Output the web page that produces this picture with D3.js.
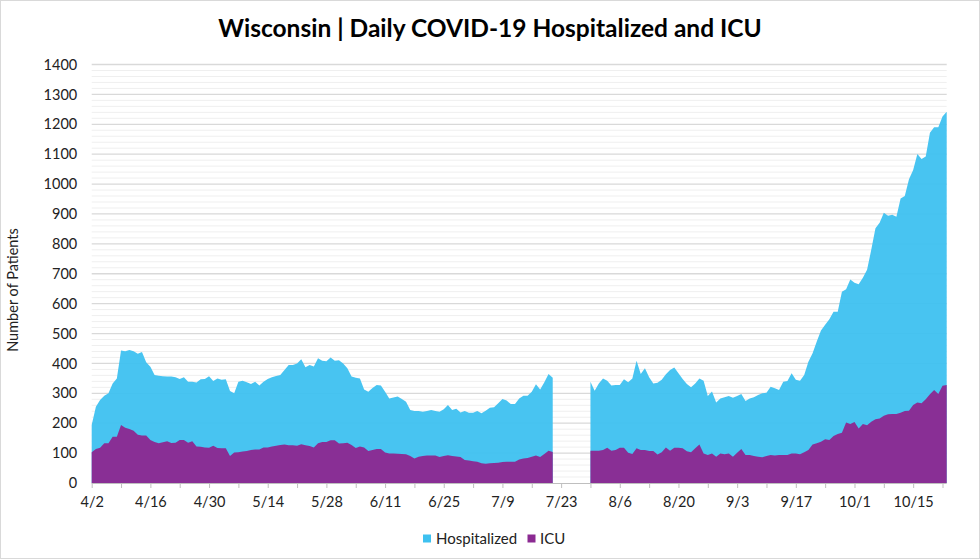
<!DOCTYPE html>
<html><head><meta charset="utf-8">
<script src="https://cdn.jsdelivr.net/npm/d3@7"></script>
<style>
body{margin:0;background:#fff;}
svg{display:block;font-family:Lato,"Open Sans",sans-serif;}
</style>
</head><body>
<svg id="chart" width="980" height="559"></svg>
<script>
// ---------------- DATA ----------------
const startDate = "2020-04-02";
const titleText = "Wisconsin | Daily COVID-19 Hospitalized and ICU";
const yAxisTitle = "Number of Patients";
const seriesNames = ["Hospitalized", "ICU"];
const yTicks = [0,100,200,300,400,500,600,700,800,900,1000,1100,1200,1300,1400];
const xTickLabels = ["4/2","4/16","4/30","5/14","5/28","6/11","6/25","7/9","7/23","8/6","8/20","9/3","9/17","10/1","10/15"];

// one value per day starting 4/2; null = no data (gap 7/22 - 7/29)
const hospitalized = [
 194,255,278,292,300,333,350,443,441,445,441,432,438,404,389,361,359,357,356,356,
 354,348,354,339,339,336,347,348,357,341,350,345,347,308,300,339,342,337,331,339,
 326,339,348,354,358,361,378,395,395,400,414,387,395,390,417,409,407,420,409,411,
 400,384,356,352,350,313,305,318,328,326,
 305,283,286,289,281,272,244,241,241,238,241,244,241,238,247,261,244,248,236,241,
 235,235,241,233,242,252,253,267,281,276,264,264,283,292,292,305,330,313,337,365,352,
 null,null,null,null,null,null,null,null,
 339,309,333,350,342,326,328,328,347,337,350,409,365,384,354,333,335,345,364,378,
 386,367,348,331,320,333,350,342,291,306,269,283,287,291,285,291,298,274,283,287,
 294,300,302,322,317,311,339,341,367,345,342,361,406,434,
 473,510,529,548,573,573,640,648,681,670,665,687,713,780,852,871,904,894,897,891,
 952,960,1016,1047,1101,1084,1092,1172,1190,1190,1226,1242
];
const icu = [
 103,114,118,133,133,155,155,194,185,181,175,161,159,159,144,137,133,136,140,134,
 135,144,144,135,140,122,121,119,118,125,117,116,116,90,102,103,105,107,110,112,
 112,119,119,122,125,127,129,126,126,125,130,126,124,119,133,137,137,143,143,132,
 133,135,127,117,122,119,107,110,114,114,
 102,99,99,98,97,96,90,82,88,90,92,92,92,87,90,93,90,89,87,77,
 75,73,71,66,64,66,67,68,70,71,71,71,79,82,84,88,92,87,97,108,104,
 null,null,null,null,null,null,null,null,
 108,108,108,110,118,108,110,118,118,101,97,116,110,110,107,107,95,103,119,108,
 118,118,116,106,103,116,129,99,94,99,88,99,96,99,88,101,114,94,94,90,
 88,86,90,94,92,94,94,94,99,99,96,103,110,129,
 133,138,146,144,157,164,168,202,197,204,182,197,193,205,213,216,225,230,231,231,
 235,241,242,261,269,267,280,297,311,298,325,328
];

// ---------------- STYLE ----------------
const colors = {Hospitalized: "#3EC1F0", ICU: "#8B2A92"};
const W = 980, H = 559;
const plot = {left: 91.7, right: 946.7, top: 64.5, bottom: 483};

const svg = d3.select("#chart");
svg.append("rect").attr("x",0.5).attr("y",0.5).attr("width",W-1).attr("height",H-1)
  .attr("fill","#fff").attr("stroke","#D9D9D9");

const parseISO = d3.utcParse("%Y-%m-%d");
const t0 = parseISO(startDate);
const dates = hospitalized.map((_, i) => d3.utcDay.offset(t0, i));
const rows = dates.map((d, i) => ({date: d, h: hospitalized[i], icu: icu[i]}));

const x = d3.scaleUtc().domain([t0, dates[dates.length - 1]]).range([plot.left, plot.right]);
const y = d3.scaleLinear().domain([0, 1400]).range([plot.bottom, plot.top]);

// gridlines: minor every 20, major every 100
const minor = d3.range(0, 1401, 20).filter(v => v % 100 !== 0);
svg.append("g").selectAll("line").data(minor).join("line")
  .attr("x1", plot.left).attr("x2", plot.right)
  .attr("y1", d => y(d)).attr("y2", d => y(d))
  .attr("stroke", "#EFEFEF").attr("stroke-width", 1);
svg.append("g").selectAll("line").data(yTicks.filter(v => v > 0)).join("line")
  .attr("x1", plot.left).attr("x2", plot.right)
  .attr("y1", d => y(d)).attr("y2", d => y(d))
  .attr("stroke", "#D9D9D9").attr("stroke-width", 1.3);

// areas (overlapping, not stacked)
const areaH = d3.area().defined(d => d.h != null)
  .x(d => x(d.date)).y0(y(0)).y1(d => y(d.h));
const areaI = d3.area().defined(d => d.icu != null)
  .x(d => x(d.date)).y0(y(0)).y1(d => y(d.icu));
svg.append("path").datum(rows).attr("d", areaH)
  .attr("fill", colors.Hospitalized).attr("fill-opacity", 0.95);
svg.append("path").datum(rows).attr("d", areaI)
  .attr("fill", colors.ICU).attr("fill-opacity", 0.97);

// x axis
const weekly = d3.range(0, dates.length, 7).map(i => dates[i]);
const fmt = d3.utcFormat("%-m/%-d");
const labelSet = new Set(xTickLabels);
const xAxis = d3.axisBottom(x).tickValues(weekly).tickSize(5).tickPadding(9)
  .tickFormat(d => labelSet.has(fmt(d)) ? fmt(d) : "");
const gx = svg.append("g").attr("transform", `translate(0,${plot.bottom})`).call(xAxis);
gx.select(".domain").attr("stroke", "#BFBFBF").attr("d", `M${plot.left},0.5H${plot.right}`);
gx.selectAll(".tick line").attr("stroke", "#BFBFBF");
gx.selectAll(".tick text").attr("font-size", "14.5px").attr("fill", "#222")
  .attr("font-family", "Lato,'Open Sans',sans-serif");

// y axis
const yAxis = d3.axisLeft(y).tickValues(yTicks).tickSize(0).tickPadding(14.5)
  .tickFormat(d3.format("d"));
const gy = svg.append("g").attr("transform", `translate(${plot.left},0)`).call(yAxis);
gy.select(".domain").remove();
gy.selectAll(".tick text").attr("font-size", "14.5px").attr("fill", "#222")
  .attr("font-family", "Lato,'Open Sans',sans-serif");

// y axis title
svg.append("text").attr("transform", "translate(18,290) rotate(-90)")
  .attr("text-anchor", "middle").attr("font-size", "14.5px").attr("fill", "#222")
  .text(yAxisTitle);

// title
const title = svg.append("text").attr("x", W / 2).attr("y", 37)
  .attr("text-anchor", "middle").attr("font-weight", "bold").attr("font-size", "24px")
  .attr("fill", "#000").text(titleText);
const tw = title.node().getComputedTextLength();
title.attr("font-size", (24 * 544 / tw) + "px");

// legend
const legendItems = [
  {name: seriesNames[0], sx: 423, tx: 436},
  {name: seriesNames[1], sx: 527.5, tx: 540}
];
const lg = svg.append("g");
legendItems.forEach(it => {
  lg.append("rect").attr("x", it.sx).attr("y", 534.5).attr("width", 8).attr("height", 8)
    .attr("fill", colors[it.name]);
  lg.append("text").attr("x", it.tx).attr("y", 543.5).attr("font-size", "15px")
    .attr("fill", "#222").text(it.name);
});
</script>
</body></html>
